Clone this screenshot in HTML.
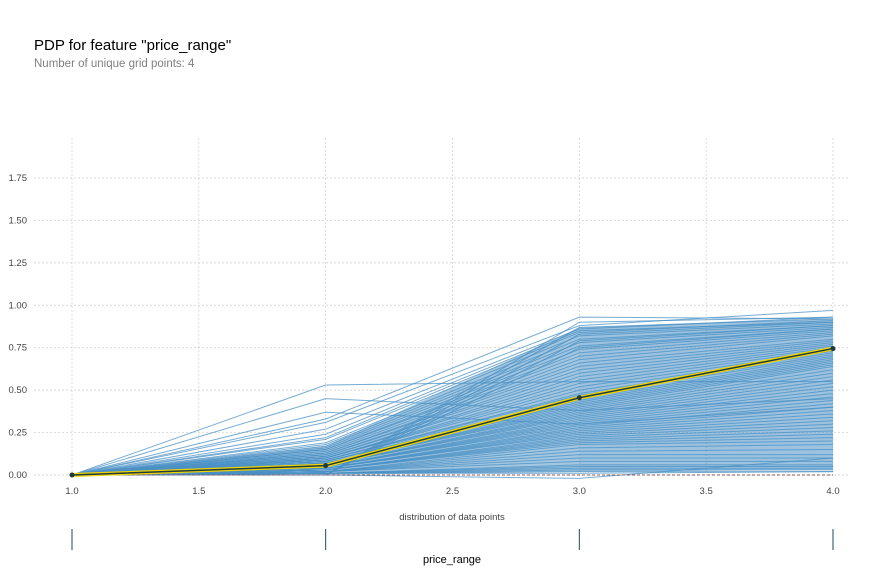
<!DOCTYPE html>
<html><head><meta charset="utf-8"><style>
body{margin:0;background:#fff;font-family:"Liberation Sans",Arial,sans-serif}
</style></head><body>
<svg width="877" height="572" id="c" xmlns="http://www.w3.org/2000/svg">
<text x="34" y="50" font-size="15" fill="#000">PDP for feature "price_range"</text>
<text x="34" y="67" font-size="11.5" fill="#808080">Number of unique grid points: 4</text>
<g id="grid"></g><g id="ice"></g><g id="pdp"></g><g id="axes"></g><g id="dist"></g>
<text x="452" y="520" font-size="9.5" fill="#444" text-anchor="middle">distribution of data points</text>
<text x="452" y="563" font-size="11" fill="#000" text-anchor="middle">price_range</text>
</svg>
<script>
const gridX=[1,2,3,4];
const xTicks=[1.0,1.5,2.0,2.5,3.0,3.5,4.0];
const yTicks=[0,0.25,0.5,0.75,1.0,1.25,1.5,1.75];
const iceAt1=0;
const iceAt2=[0.53,0.45,0.37,0.33,0.31,0.27,0.24,0.22,0.21,0.19,0.18,0.17,0.16,0.15,0.15,0.14,0.13,0.13,0.12,0.12,0.11,0.11,0.10,0.10,0.10,0.09,0.09,0.09,0.08,0.08,0.08,0.07,0.07,0.07,0.07,0.06,0.06,0.06,0.06,0.05,0.05,0.05,0.05,0.05,0.04,0.04,0.04,0.04,0.04,0.03,0.03,0.03,0.03,0.03,0.02,0.02,0.02,0.02,0.02,0.02,0.01,0.01,0.01,0.01,0.01,0.01,0.00,0.00,0.00,0.00,0.00,0.00];
const iceAt3=[0.55,0.38,0.30,0.93,0.88,0.86,0.85,0.84,0.82,0.80,0.78,0.76,0.74,0.72,0.70,0.68,0.66,0.64,0.62,0.60,0.58,0.56,0.54,0.52,0.50,0.48,0.47,0.45,0.44,0.43,0.42,0.41,0.40,0.39,0.38,0.37,0.36,0.35,0.34,0.33,0.32,0.31,0.30,0.29,0.28,0.27,0.26,0.25,0.24,0.23,0.22,0.21,0.20,0.19,0.18,0.16,0.14,0.12,0.10,0.08,0.06,0.05,0.04,0.03,0.02,0.01,-0.02,0.90,0.87,0.83,0.79,0.75];
const iceAt4=[0.55,0.45,0.40,0.92,0.97,0.93,0.90,0.91,0.89,0.88,0.87,0.86,0.85,0.84,0.83,0.82,0.80,0.79,0.78,0.77,0.76,0.75,0.74,0.73,0.72,0.71,0.70,0.69,0.68,0.67,0.66,0.65,0.64,0.62,0.60,0.58,0.56,0.54,0.52,0.50,0.48,0.46,0.44,0.42,0.40,0.38,0.36,0.34,0.32,0.30,0.28,0.26,0.24,0.22,0.20,0.18,0.15,0.12,0.10,0.08,0.06,0.05,0.04,0.03,0.02,0.02,0.10,0.93,0.92,0.90,0.88,0.86];
const pdpValues=[0,0.055,0.455,0.745];
const distPoints=[1,2,3,4];

const X=v=>72+(v-1)*(833-72)/3;
const Y=v=>475-v*(475-178)/1.75;
const NS="http://www.w3.org/2000/svg";
function mk(tag,parent,attrs){const e=document.createElementNS(NS,tag);for(const k in attrs)e.setAttribute(k,attrs[k]);parent.appendChild(e);return e;}
const grid=document.getElementById('grid'),ice=document.getElementById('ice'),pdp=document.getElementById('pdp'),axes=document.getElementById('axes'),dist=document.getElementById('dist');
xTicks.forEach(t=>{
 const l=mk('line',grid,{x1:X(t),x2:X(t),y1:138,y2:475,stroke:'#ccc','stroke-width':0.7,'stroke-dasharray':'2,2'});
 
 
 const tx=mk('text',axes,{x:X(t),y:494,'font-size':9.5,fill:'#444','text-anchor':'middle'});
 tx.textContent=t.toFixed(1);
 
 
});
yTicks.forEach(t=>{
 const l=mk('line',grid,{x1:34,x2:850,y1:Y(t),y2:Y(t),stroke:'#ccc','stroke-width':0.7,'stroke-dasharray':'2,2'});
 
 
 const tx=mk('text',axes,{x:27,y:Y(t)+3,'font-size':9.5,fill:'#444','text-anchor':'end'});
 tx.textContent=t.toFixed(2);
 
 
});
// dense core bands derived from the data
const s2=iceAt2.slice().sort((a,b)=>a-b), s3=iceAt3.slice().sort((a,b)=>a-b), s4=iceAt4.slice().sort((a,b)=>a-b);
const q=(s,f)=>s[Math.floor(f*(s.length-1))];
const b1=mk('polygon',ice,{points:[X(1)+','+Y(0),X(2)+','+Y(q(s2,0.85)),X(2)+','+Y(s2[0])].join(' '),fill:'#4a90c4','fill-opacity':0.55});


const b2=mk('polygon',ice,{points:[X(2)+','+Y(s2[0]),X(2)+','+Y(q(s2,0.85)),X(3)+','+Y(q(s3,0.97)),X(3)+','+Y(q(s3,0.03))].join(' '),fill:'#4a90c4','fill-opacity':0.5});


const b3=mk('polygon',ice,{points:[X(3)+','+Y(q(s3,0.03)),X(3)+','+Y(q(s3,0.97)),X(4)+','+Y(q(s4,0.97)),X(4)+','+Y(q(s4,0.03))].join(' '),fill:'#4a90c4','fill-opacity':0.55});


for(let i=0;i<iceAt2.length;i++){
 const vals=[iceAt1,iceAt2[i],iceAt3[i],iceAt4[i]];
 const p=mk('polyline',ice,{points:gridX.map((g,k)=>X(g)+','+Y(vals[k])).join(' '),fill:'none',stroke:'#4a90c4','stroke-width':1,'stroke-opacity':0.75});
 
 
}
const zl=mk('line',pdp,{x1:X(1),x2:X(4),y1:Y(0),y2:Y(0),stroke:'#8a5a5a','stroke-width':1,'stroke-dasharray':'3,2'});


const pts=gridX.map((g,k)=>X(g)+','+Y(pdpValues[k])).join(' ');
const y1=mk('polyline',pdp,{points:pts,fill:'none',stroke:'#f0d400','stroke-width':4});


const y2=mk('polyline',pdp,{points:pts,fill:'none',stroke:'#1f3b3f','stroke-width':1.5});


gridX.forEach((g,k)=>{
 const c=mk('circle',pdp,{cx:X(g),cy:Y(pdpValues[k]),r:2.5,fill:'#1f3b3f'});
 
 
});
distPoints.forEach(d=>{
 const l=mk('line',dist,{x1:X(d),x2:X(d),y1:529,y2:550,stroke:'#1a4a5a','stroke-width':1});
 
 
});
</script>
</body></html>
